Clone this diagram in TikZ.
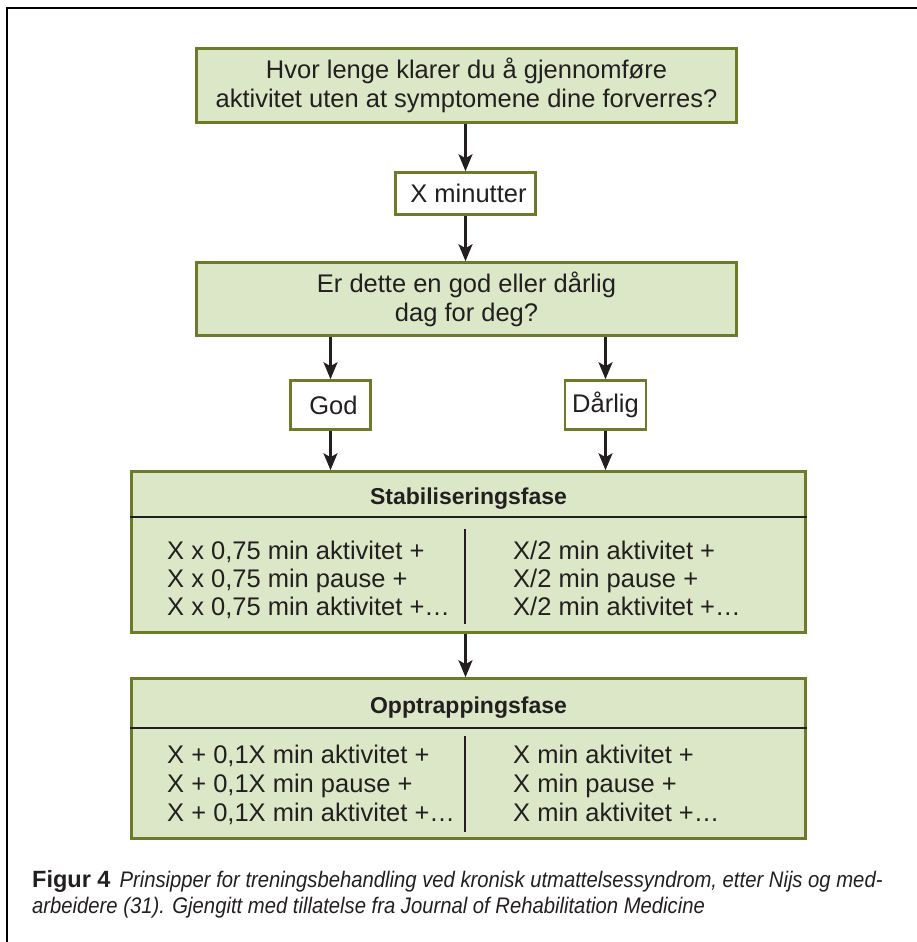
\documentclass[tikz,border=0pt]{standalone}
\usepackage{fontspec}
\setmainfont{Liberation Sans}
\newfontfamily\capfont[FakeStretch=0.90]{Liberation Sans}
\usetikzlibrary{arrows.meta}
\definecolor{boxfill}{RGB}{220,231,199}
\definecolor{boxline}{RGB}{108,122,42}
\definecolor{ink}{RGB}{35,31,32}
\tikzset{
  gbox/.style={draw=boxline, fill=boxfill, line width=2.6pt, inner sep=0pt, text=ink,
    font=\fontsize{25.5}{29}\selectfont, align=center},
  wbox/.style={draw=boxline, fill=white, line width=2.6pt, inner sep=0pt, text=ink,
    font=\fontsize{25.5}{29}\selectfont, align=center},
  arr/.style={draw=ink, line width=2.2pt, -{Stealth[length=17pt,width=14pt,inset=4pt]}},
  rulel/.style={draw=ink, line width=2.2pt},
  body/.style={font=\fontsize{25.5}{29}\selectfont, text=ink, inner sep=0pt, anchor=base west},
  ttl/.style={font=\fontsize{23}{27}\selectfont\bfseries, text=ink, inner sep=0pt, anchor=base},
  captext/.style={text=ink, inner sep=0pt, anchor=base west}
}
\begin{document}
\begin{tikzpicture}[x=1pt,y=-1pt]
\useasboundingbox (0,0) rectangle (917,942);
% outer frame
\draw[line width=2.2pt, black] (7,943) -- (7,8) -- (918,8);

% boxes
\node[gbox, minimum width=540pt, minimum height=74pt] (q1) at (466.5,85.5)
  {Hvor lenge klarer du å gjennomføre\\aktivitet uten at symptomene dine forverres?};
\node[wbox, minimum width=140pt, minimum height=42pt] (xmin) at (465.5,193.5) {\hspace{6pt}X minutter};
\node[gbox, minimum width=540pt, minimum height=73pt] (q2) at (466.5,299)
  {Er dette en god eller dårlig\\dag for deg?};
\node[wbox, minimum width=80pt, minimum height=49pt] (god) at (330.5,405) {\hspace{6pt}God};
\node[wbox, minimum width=81pt, minimum height=49pt] (darlig) at (605.5,405) {Dårlig};
\node[gbox, minimum width=674pt, minimum height=161pt] (stab) at (468.5,552) {};
\node[gbox, minimum width=674pt, minimum height=160pt] (opp) at (468.5,758.5) {};

% connectors
\draw[arr] (xmin.north |- q1.south) -- (xmin.north);
\draw[arr] (xmin.south) -- (xmin.south |- q2.north);
\draw[arr] (god.north |- q2.south) -- (god.north);
\draw[arr] (darlig.north |- q2.south) -- (darlig.north);
\draw[arr] (god.south) -- (god.south |- stab.north);
\draw[arr] (darlig.south) -- (darlig.south |- stab.north);
\draw[arr] (xmin.south |- stab.south) -- (xmin.south |- opp.north);

% Stabiliseringsfase
\node[ttl] (stabt) at (468.5,504) {Stabiliseringsfase};
\draw[rulel] (stab.west |- 0,517) -- (stab.east |- 0,517);
\draw[rulel] (465,529) -- (465,624);
\node[body] (s1) at (167,559) {X x 0,75 min aktivitet +};
\node[body] (s2) at (167,587) {X x 0,75 min pause +};
\node[body] (s3) at (167,615) {X x 0,75 min aktivitet +…};
\node[body] (r1) at (513,559) {X/2 min aktivitet +};
\node[body] (r2) at (513,587) {X/2 min pause +};
\node[body] (r3) at (513,615) {X/2 min aktivitet +…};

% Opptrappingsfase
\node[ttl] (oppt) at (468.5,713) {Opptrappingsfase};
\draw[rulel] (opp.west |- 0,728) -- (opp.east |- 0,728);
\draw[rulel] (465,736) -- (465,832);
\node[body] (o1) at (167,763) {X + 0,1X min aktivitet +};
\node[body] (o2) at (167,792) {X + 0,1X min pause +};
\node[body] (o3) at (167,821) {X + 0,1X min aktivitet +…};
\node[body] (p1) at (513,763) {X min aktivitet +};
\node[body] (p2) at (513,792) {X min pause +};
\node[body] (p3) at (513,821) {X min aktivitet +…};

% caption
\node[captext] (c1) at (32,887) {\fontsize{23.5}{26}\selectfont\bfseries Figur 4\hspace{9pt}\capfont\mdseries\itshape\fontsize{22.5}{26}\selectfont Prinsipper for treningsbehandling ved kronisk utmattelsessyndrom, etter Nijs og med-};
\node[captext] (c2) at (32,913) {\capfont\itshape\fontsize{22.5}{26}\selectfont arbeidere (31). Gjengitt med tillatelse fra Journal of Rehabilitation Medicine};
\end{tikzpicture}
\end{document}
